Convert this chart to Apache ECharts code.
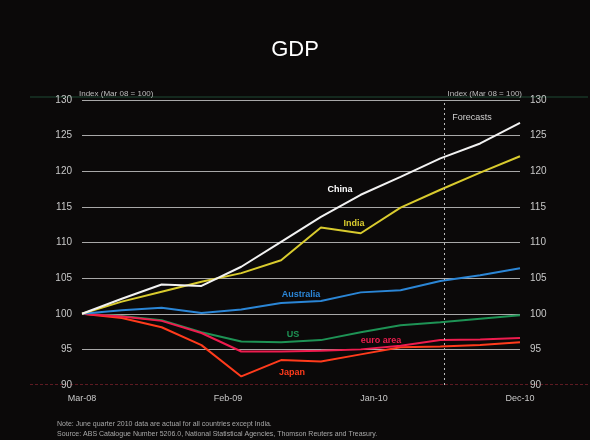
<!DOCTYPE html>
<html><head><meta charset="utf-8">
<script src="https://cdn.jsdelivr.net/npm/echarts@6/dist/echarts.min.js"></script>
<style>html,body{margin:0;padding:0;background:#0b0909;}#c{width:590px;height:440px;}</style>
</head><body><div id="c"></div>
<script>
// months since Mar-08 for each quarterly observation
const months = [0, 3, 6, 9, 12, 15, 18, 21, 24, 27, 30, 33];
const quarters = ['Mar-08','Jun-08','Sep-08','Dec-08','Mar-09','Jun-09','Sep-09','Dec-09','Mar-10','Jun-10','Sep-10','Dec-10'];
const tickMonths = [0, 11, 22, 33];
const tickLabels = ['Mar-08', 'Feb-09', 'Jan-10', 'Dec-10'];
const china     = [100, 102.1, 104.1, 103.9, 106.6, 110.1, 113.6, 116.7, 119.2, 121.8, 123.9, 126.8];
const india     = [100, 101.7, 103.1, 104.5, 105.7, 107.5, 112.1, 111.3, 114.9, 117.4, 119.8, 122.1];
const australia = [100, 100.5, 100.85, 100.1, 100.6, 101.5, 101.8, 103.0, 103.3, 104.6, 105.4, 106.4];
const us        = [100, 99.7, 99.1, 97.4, 96.1, 96.0, 96.3, 97.4, 98.4, 98.8, 99.3, 99.8];
const euro      = [100, 99.6, 99.0, 97.3, 94.7, 94.7, 94.8, 95.0, 95.5, 96.3, 96.4, 96.6];
const japan     = [100, 99.4, 98.1, 95.6, 91.2, 93.5, 93.3, 94.3, 95.3, 95.4, 95.6, 96.0];
const forecastStart = 27.3;

const chart = echarts.init(document.getElementById('c'));
const pairs = arr => arr.map((v, i) => [months[i], v]);
const font = 'Arial, "Liberation Sans", sans-serif';
function line(name, data, color) {
  return {
    name, type: 'line', data: pairs(data), symbol: 'none',
    lineStyle: {color, width: 2}, itemStyle: {color}, z: 3,
  };
}
const seriesLabels = [
  ['China', 340, 190, '#ffffff'],
  ['India', 354, 224, '#d9cb2e'],
  ['Australia', 301, 295, '#2b86d6'],
  ['US', 293, 335, '#1e9355'],
  ['euro area', 381, 341, '#ee1c4e'],
  ['Japan', 292, 373, '#ff3b1c'],
];
const yLabel = {color: '#c8c8c8', fontSize: 10, fontFamily: font, margin: 10, padding: [4, 0, 0, 0]};
chart.setOption({
  backgroundColor: '#0b0909',
  animation: false,
  title: {text: 'GDP', left: 'center', top: 34, textStyle: {color: '#ffffff', fontSize: 22, fontWeight: 'normal', fontFamily: font}},
  grid: {left: 82, right: 70, top: 100, bottom: 55},
  xAxis: {
    type: 'value', min: 0, max: 33, interval: 11,
    axisLine: {show: false},
    axisTick: {show: false},
    splitLine: {show: false},
    axisLabel: {color: '#c8c8c8', fontSize: 9, fontFamily: font, margin: 9,
      formatter: v => { const i = tickMonths.indexOf(v); return i >= 0 ? tickLabels[i] : ''; }}
  },
  yAxis: [
    {type: 'value', min: 90, max: 130, interval: 5, position: 'left',
     axisLine: {show: false}, axisTick: {show: false},
     axisLabel: yLabel,
     splitLine: {lineStyle: {color: ['rgba(0,0,0,0)', '#a8a8a8', '#a8a8a8', '#a8a8a8', '#a8a8a8', '#a8a8a8', '#a8a8a8', '#a8a8a8', '#a8a8a8'], width: 1}}},
    {type: 'value', min: 90, max: 130, interval: 5, position: 'right',
     axisLine: {show: false}, axisTick: {show: false},
     axisLabel: yLabel,
     splitLine: {show: false}}
  ],
  series: [
    line('US', us, '#1e9355'),
    line('Japan', japan, '#ff3b1c'),
    line('euro area', euro, '#ee1c4e'),
    line('Australia', australia, '#2b86d6'),
    line('India', india, '#d9cb2e'),
    Object.assign(line('China', china, '#f2f2f2'), {
      markLine: {symbol: 'none', silent: true, label: {show: false},
        lineStyle: {color: '#bbbbbb', type: [2, 3], width: 1},
        data: [{xAxis: forecastStart}]}
    }),
  ],
  graphic: [
    {type: 'line', shape: {x1: 30, y1: 97, x2: 588, y2: 97}, style: {stroke: '#1f4a34', lineWidth: 1}},
    {type: 'line', shape: {x1: 30, y1: 384.5, x2: 588, y2: 384.5}, style: {stroke: '#5e1a22', lineWidth: 1, lineDash: [3, 2]}},
    {type: 'text', left: 79, top: 90, style: {text: 'Index (Mar 08 = 100)', fill: '#bdbdbd', font: '8px ' + font}},
    {type: 'text', right: 68, top: 90, style: {text: 'Index (Mar 08 = 100)', fill: '#bdbdbd', font: '8px ' + font}},
    {type: 'text', x: 472, y: 118, style: {text: 'Forecasts', fill: '#d0d0d0', font: '9px ' + font, align: 'center', verticalAlign: 'middle'}},
    ...seriesLabels.map(([t, x, y, c]) => ({type: 'text', x, y, style: {text: t, fill: c, font: 'bold 9px ' + font, align: 'center', verticalAlign: 'middle'}})),
    {type: 'text', left: 57, top: 421, style: {text: 'Note: June quarter 2010 data are actual for all countries except India.', fill: '#a8a8a8', font: '7px ' + font}},
    {type: 'text', left: 57, top: 431, style: {text: 'Source: ABS Catalogue Number 5206.0, National Statistical Agencies, Thomson Reuters and Treasury.', fill: '#a8a8a8', font: '7px ' + font}},
  ]
});
</script></body></html>
